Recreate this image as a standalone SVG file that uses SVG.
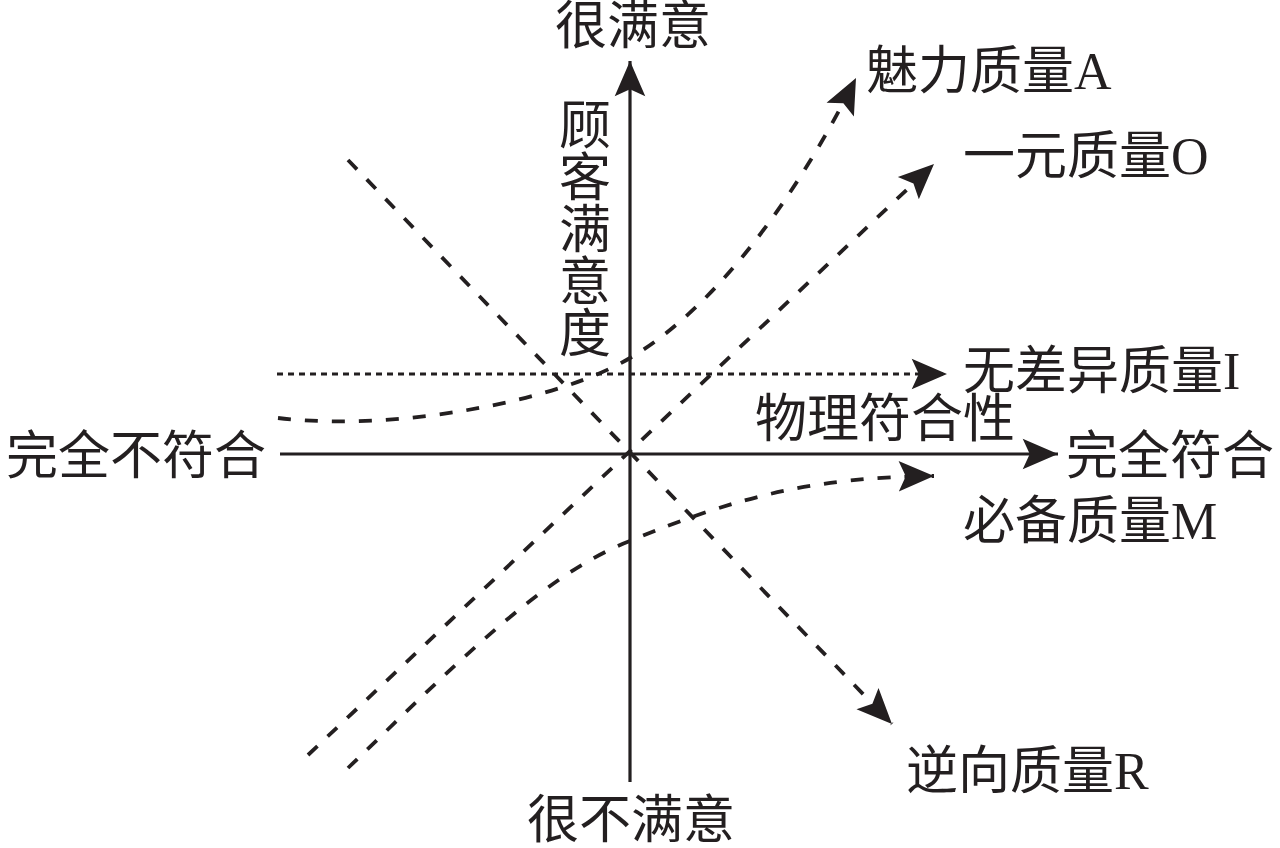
<svg xmlns="http://www.w3.org/2000/svg" width="1280" height="848" viewBox="0 0 1280 848">
<style>
.t{font-family:"Liberation Serif","Noto Sans CJK SC",serif;font-size:52px;fill:#231f20}
.axis{stroke:#231f20;stroke-width:3.2;fill:none}
.dash{stroke:#231f20;stroke-width:3.8;fill:none;stroke-dasharray:13 14}
.dot{stroke:#231f20;stroke-width:3.2;fill:none;stroke-dasharray:6 5}
</style>
<defs>
<marker id="ah" markerUnits="userSpaceOnUse" markerWidth="40" markerHeight="40" viewBox="-32 -15 34 30" refX="0" refY="0" orient="auto">
<path d="M0,0 L-30,-13 L-24,0 L-30,13 Z" fill="#231f20"/>
</marker>
</defs>
<rect width="1280" height="848" fill="#fff"/>
<g id="connectors">
<line id="y-axis" class="axis" x1="630" y1="782" x2="630" y2="61" marker-end="url(#ah)"/>
<line id="x-axis" class="axis" x1="280" y1="454" x2="1058" y2="454" marker-end="url(#ah)"/>
<line id="line-O" class="dash" x1="308" y1="755" x2="934" y2="164" marker-end="url(#ah)"/>
<line id="line-R" class="dash" x1="348" y1="160" x2="892" y2="724" marker-end="url(#ah)"/>
<line id="line-I" class="dot" x1="277" y1="374" x2="947" y2="374" marker-end="url(#ah)"/>
<path id="curve-A" class="dash" d="M278,418 C400,432 560,400 630,358 C720,305 800,190 856,78" marker-end="url(#ah)"/>
<path id="curve-M" class="dash" d="M348,768 C440,680 540,575 630,541 C740,495 820,477 934,476" marker-end="url(#ah)"/>
</g>
<g id="node-very-satisfied"><text class="t" x="555" y="44">很满意</text></g>
<g id="node-very-unsatisfied"><text class="t" x="527" y="838">很不满意</text></g>
<g id="node-full-nonconform"><text class="t" x="6" y="474">完全不符合</text></g>
<g id="node-full-conform"><text class="t" x="1066" y="474">完全符合</text></g>
<g id="node-physical"><text class="t" x="755" y="437">物理符合性</text></g>
<g id="node-satisfaction">
<text class="t" text-anchor="middle"><tspan x="585" y="144">顾</tspan><tspan x="585" y="196">客</tspan><tspan x="585" y="248">满</tspan><tspan x="585" y="300">意</tspan><tspan x="585" y="352">度</tspan></text>
</g>
<g id="node-A"><text class="t" x="866" y="89">魅力质量A</text></g>
<g id="node-O"><text class="t" x="963" y="174">一元质量O</text></g>
<g id="node-I"><text class="t" x="963" y="389">无差异质量I</text></g>
<g id="node-M"><text class="t" x="963" y="539">必备质量M</text></g>
<g id="node-R"><text class="t" x="906" y="789">逆向质量R</text></g>
</svg>
